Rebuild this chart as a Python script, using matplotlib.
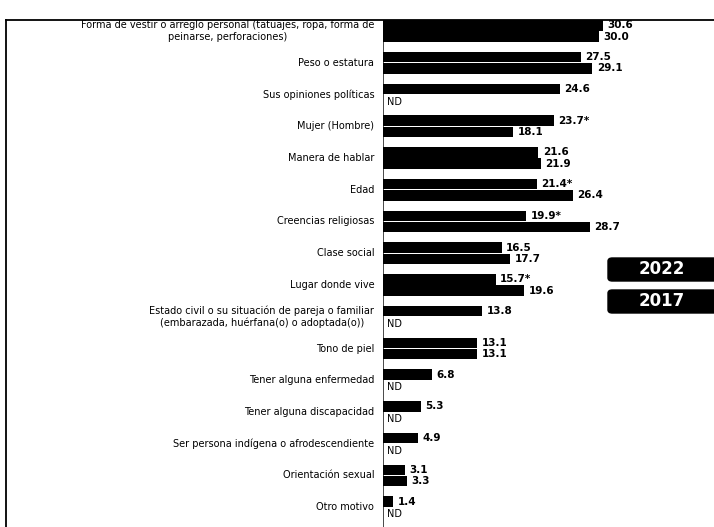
import matplotlib.pyplot as plt
from matplotlib.patches import FancyBboxPatch
from matplotlib.lines import Line2D
import numpy as np

plt.rcParams['font.family'] = ['Liberation Sans Narrow', 'DejaVu Sans']

categories = [
    'Forma de vestir o arreglo personal (tatuajes, ropa, forma de\npeinarse, perforaciones)',
    'Peso o estatura',
    'Sus opiniones políticas',
    'Mujer (Hombre)',
    'Manera de hablar',
    'Edad',
    'Creencias religiosas',
    'Clase social',
    'Lugar donde vive',
    'Estado civil o su situación de pareja o familiar\n(embarazada, huérfana(o) o adoptada(o))',
    'Tono de piel',
    'Tener alguna enfermedad',
    'Tener alguna discapacidad',
    'Ser persona indígena o afrodescendiente',
    'Orientación sexual',
    'Otro motivo',
]
vals_2022 = [30.6, 27.5, 24.6, 23.7, 21.6, 21.4, 19.9, 16.5, 15.7, 13.8, 13.1, 6.8, 5.3, 4.9, 3.1, 1.4]
vals_2017 = [30.0, 29.1, None, 18.1, 21.9, 26.4, 28.7, 17.7, 19.6, None, 13.1, None, None, None, 3.3, None]
star_2022 = [False, False, False, True, False, True, True, False, True,
             False, False, False, False, False, False, False]
series_names = ['2022', '2017']

W, H = 714, 527
fig = plt.figure(figsize=(W / 100, H / 100), dpi=100)
x0 = 383
top = 20
ax = fig.add_axes([x0 / W, 0, 1 - x0 / W, 1 - top / H])

n = len(categories)
y = np.arange(n)
gap = 31.75          # px between groups
off = 5.6 / gap
bh = 10.5 / gap

v22 = np.array(vals_2022)
v17 = np.array([v if v is not None else 0 for v in vals_2017])
ax.barh(y - off, v22, height=bh, color='black')
ax.barh(y + off, v17, height=bh, color='black')

for i in range(n):
    lab = f'{vals_2022[i]:.1f}' + ('*' if star_2022[i] else '')
    ax.text(vals_2022[i] + 0.6, y[i] - off, lab, va='center', ha='left',
            fontsize=7.5, fontweight='bold')
    if vals_2017[i] is None:
        ax.text(0.6, y[i] + off + 0.05, 'ND', va='center', ha='left', fontsize=7)
    else:
        ax.text(vals_2017[i] + 0.6, y[i] + off, f'{vals_2017[i]:.1f}', va='center',
                ha='left', fontsize=7.5, fontweight='bold')
    ax.text(-1.2, y[i], categories[i], va='center', ha='right',
            multialignment='center', fontsize=7, clip_on=False)

ax.set_xlim(0, 46.0)
# first group centre ~31 px from top of figure
y_top = (31 - top) / gap
y_bot = (H - top) / gap - y_top
ax.set_ylim(y_bot, -y_top)
ax.set_xticks([])
ax.set_yticks([])
for s in ['top', 'right', 'bottom']:
    ax.spines[s].set_visible(False)
ax.spines['left'].set_linewidth(0.5)
ax.patch.set_alpha(0)

# legend boxes
for name, ytop in zip(series_names, [258, 290]):
    bx = FancyBboxPatch((608 / W, 1 - (ytop + 23) / H), 110 / W, 23 / H,
                        boxstyle='round,pad=0,rounding_size=0.006',
                        transform=fig.transFigure, facecolor='black',
                        edgecolor='black', clip_on=False)
    fig.patches.append(bx)
    fig.text(662 / W, 1 - (ytop + 11.5) / H, name, color='white', fontsize=12,
             fontweight='bold', ha='center', va='center')

# frame of the scanned chart
fig.add_artist(Line2D([6 / W, 1], [1 - top / H, 1 - top / H], color='black', lw=1.3,
                      transform=fig.transFigure))
fig.add_artist(Line2D([6 / W, 6 / W], [0, 1 - top / H], color='black', lw=1.3,
                      transform=fig.transFigure))

fig.savefig('out.png', dpi=100)
